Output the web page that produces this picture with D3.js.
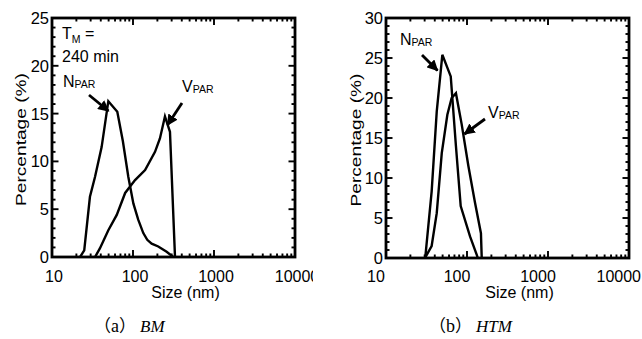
<!DOCTYPE html>
<html><head><meta charset="utf-8">
<script src="https://cdn.jsdelivr.net/npm/d3@7"></script>
<style>
html,body{margin:0;padding:0;background:#fff;}
svg{display:block;}
text{font-family:"Liberation Sans",Arial,sans-serif;fill:#000;}
</style></head>
<body>
<svg id="chart" width="642" height="339"></svg>
<script>
// ---------- data ----------
const xTickValues = [10, 100, 1000, 10000];
const xTickLabels = ["10", "100", "1000", "10000"];
const yTicksA = [0, 5, 10, 15, 20, 25];
const yTicksB = [0, 5, 10, 15, 20, 25, 30];

// Panel (a) BM
const nSizeA = [22.2, 25, 29.4, 34, 41, 49.6, 64, 75, 87.5, 101, 116, 134, 150, 170, 205, 260, 314];
const nValA  = [0, 0.7, 6.3, 8.4, 11.5, 16.3, 15.2, 12.1, 8.4, 5.6, 3.9, 2.5, 1.8, 1.4, 1.1, 0.55, 0];
const vSizeA = [34, 39, 49.6, 63, 80, 106, 141, 187, 215, 248, 286, 330];
const vValA  = [0, 0.9, 2.8, 4.4, 6.7, 8.05, 9.1, 11.0, 12.4, 14.7, 13.1, 0];

// Panel (b) HTM
const nSizeB = [30.5, 36.6, 42.3, 49.6, 63, 73, 83.6, 109, 132, 136];
const nValB  = [0, 8.3, 18.3, 25.4, 22.7, 14, 6.5, 2.7, 0.4, 0];
const vSizeB = [30.3, 36.6, 42.3, 48.8, 57.2, 64.6, 73, 86, 104, 125.6, 148.6, 152];
const vValB  = [0, 1.5, 5.6, 13.1, 17.9, 20, 20.6, 16.7, 11.5, 6.9, 3.1, 0];

const captions = [{open:"（", lbl:"a", close:"）", it:"BM"}, {open:"（", lbl:"b", close:"）", it:"HTM"}];

// ---------- drawing ----------
const svg = d3.select("#chart");
svg.append("defs").append("marker")
  .attr("id","arr").attr("viewBox","0 0 10 10").attr("refX",9).attr("refY",5)
  .attr("markerWidth",4).attr("markerHeight",4).attr("orient","auto")
  .attr("markerUnits","strokeWidth")
  .append("path").attr("d","M0,0 L10,5 L0,10 z").attr("fill","#000");
svg.select("defs").append("clipPath").attr("id","clipA")
  .append("rect").attr("x",0).attr("y",0).attr("width",313).attr("height",339);

function panel(cfg){
  const g = svg.append("g");
  if (cfg.clip) g.attr("clip-path","url(#"+cfg.clip+")");
  const x = d3.scaleLog().domain([10,10000]).range([cfg.left, cfg.right]);
  const y = d3.scaleLinear().domain([0, cfg.ymax]).range([cfg.bottom, cfg.top]);

  const minorX = [];
  for (let d = 10; d < 10000; d *= 10) for (let k = 2; k <= 9; k++) minorX.push(d*k);
  const minorY = d3.range(0, cfg.ymax + 0.001, 1).filter(v => v % 5 !== 0);

  const tickG = g.append("g").attr("stroke","#000").attr("stroke-width",1.9);
  [[cfg.bottom, -1],[cfg.top, 1]].forEach(([yy, dir]) => {
    tickG.selectAll(null).data(minorX).join("line")
      .attr("x1", d => x(d)).attr("x2", d => x(d))
      .attr("y1", yy).attr("y2", yy + dir*3.5);
    tickG.selectAll(null).data(xTickValues).join("line")
      .attr("x1", d => x(d)).attr("x2", d => x(d))
      .attr("y1", yy).attr("y2", yy + dir*7);
  });
  [[cfg.left, 1],[cfg.right, -1]].forEach(([xx, dir]) => {
    tickG.selectAll(null).data(minorY).join("line")
      .attr("y1", d => y(d)).attr("y2", d => y(d))
      .attr("x1", xx).attr("x2", xx + dir*3.5);
    tickG.selectAll(null).data(cfg.yTicks).join("line")
      .attr("y1", d => y(d)).attr("y2", d => y(d))
      .attr("x1", xx).attr("x2", xx + dir*6.5);
  });

  g.append("rect").attr("x",cfg.left).attr("y",cfg.top)
    .attr("width",cfg.right-cfg.left).attr("height",cfg.bottom-cfg.top)
    .attr("fill","none").attr("stroke","#000").attr("stroke-width",2.8);

  g.selectAll(null).data(xTickValues).join("text")
    .attr("x", (d,i) => (cfg.lastEnd && i === xTickValues.length-1) ? 641 : x(d) + cfg.xLabDx)
    .attr("y", 282)
    .attr("text-anchor", (d,i) => (cfg.lastEnd && i === xTickValues.length-1) ? "end" : "middle")
    .attr("font-size", 16)
    .text((d,i) => xTickLabels[i]);
  g.selectAll(null).data(cfg.yTicks).join("text")
    .attr("x", cfg.left - 3).attr("y", d => y(d) + 6)
    .attr("text-anchor","end").attr("font-size",16.5)
    .text(d => d);

  g.append("text").attr("x",(cfg.left+cfg.right)/2 + 12).attr("y",298)
    .attr("text-anchor","middle").attr("font-size",16).text("Size (nm)");
  g.append("text")
    .attr("transform",`translate(${cfg.ytx},${(cfg.top+cfg.bottom)/2 + 2}) rotate(-90)`)
    .attr("text-anchor","middle").attr("font-size",15)
    .attr("textLength",133).attr("lengthAdjust","spacingAndGlyphs")
    .text("Percentage (%)");

  const line = d3.line().x(d => x(d[0])).y(d => y(d[1]));
  cfg.series.forEach(s => {
    g.append("path").datum(d3.zip(s.sizes, s.vals)).attr("d", line)
      .attr("fill","none").attr("stroke","#000").attr("stroke-width",2.4)
      .attr("stroke-linejoin","miter");
  });

  cfg.labels.forEach(l => {
    const t = g.append("text").attr("x", l.x).attr("y", l.y).attr("font-size",16);
    t.append("tspan").text(l.main);
    t.append("tspan").attr("font-size",10.5).attr("dy",l.subDy).text(l.sub);
    if (l.rest) t.append("tspan").attr("dy",-l.subDy).text(l.rest);
  });
  cfg.arrows.forEach(a => {
    g.append("line").attr("x1",a[0]).attr("y1",a[1]).attr("x2",a[2]).attr("y2",a[3])
      .attr("stroke","#000").attr("stroke-width",2.8).attr("marker-end","url(#arr)");
  });
  if (cfg.extra) cfg.extra(g);

  const c = g.append("text").attr("x", cfg.capX).attr("y", 332).attr("font-size",17);
  c.append("tspan").attr("font-family","'Noto Sans CJK SC'").text(cfg.caption.open);
  c.append("tspan").attr("font-family","'Liberation Serif',serif").attr("font-size",18).text(cfg.caption.lbl);
  c.append("tspan").attr("font-family","'Noto Sans CJK SC'").text(cfg.caption.close);
  c.append("tspan").attr("dx",4).attr("font-family","'Liberation Serif',serif")
    .attr("font-style","italic").attr("font-size",17).text(cfg.caption.it);
}

panel({
  left:52, right:295, top:18, bottom:257, ymax:25, yTicks:yTicksA, ytx:26,
  xLabDx:2, clip:"clipA", capX:94, caption:captions[0],
  series:[{sizes:nSizeA, vals:nValA},{sizes:vSizeA, vals:vValA}],
  labels:[
    {x:62, y:39, main:"T", sub:"M", subDy:4, rest:" ="},
    {x:63, y:87, main:"N", sub:"PAR", subDy:1},
    {x:182, y:92, main:"V", sub:"PAR", subDy:1}
  ],
  arrows:[[89,95,108.5,111],[182,103,167.5,125]],
  extra: g => g.append("text").attr("x",62).attr("y",62).attr("font-size",16).text("240 min")
});
panel({
  left:386, right:629, top:18, bottom:258, ymax:30, yTicks:yTicksB, ytx:361,
  xLabDx:-10, lastEnd:true, capX:429, caption:captions[1],
  series:[{sizes:nSizeB, vals:nValB},{sizes:vSizeB, vals:vValB}],
  labels:[
    {x:400, y:45, main:"N", sub:"PAR", subDy:1},
    {x:488, y:118, main:"V", sub:"PAR", subDy:1}
  ],
  arrows:[[422,55,437.5,70.5],[485,119,464.5,134]]
});
</script>
</body></html>
